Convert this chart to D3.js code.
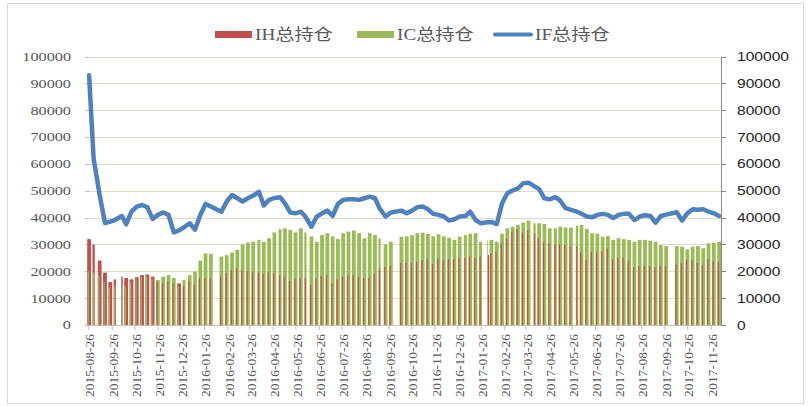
<!DOCTYPE html>
<html lang="zh">
<head>
<meta charset="utf-8">
<title>IH IC IF 总持仓</title>
<script src="https://cdnjs.cloudflare.com/ajax/libs/d3/7.8.5/d3.min.js"></script>
<style>
  body { margin: 0; background: #fff; }
  svg text { font-family: "Liberation Serif", "Noto Sans CJK SC", serif; }
</style>
</head>
<body>
<script>
// one value per trading week, weeks start on Monday 2015-08-24
var firstWeek = "2015-08-24";
var lastDay = "2017-12-08";

// exchange holidays (no bars on these days)
var closedDays = [
  "2015-09-03", "2015-09-04", "2015-10-01", "2015-10-02", "2015-10-05", "2015-10-06", "2015-10-07",
  "2016-01-01", "2016-02-08", "2016-02-09", "2016-02-10", "2016-02-11", "2016-02-12",
  "2016-04-04", "2016-05-02", "2016-06-09", "2016-06-10", "2016-09-15", "2016-09-16",
  "2016-10-03", "2016-10-04", "2016-10-05", "2016-10-06", "2016-10-07",
  "2017-01-02", "2017-01-27", "2017-01-30", "2017-01-31", "2017-02-01", "2017-02-02",
  "2017-04-03", "2017-04-04", "2017-05-01", "2017-05-29", "2017-05-30",
  "2017-10-02", "2017-10-03", "2017-10-04", "2017-10-05", "2017-10-06"
];

var ihHold = [
  32000, 30000, 24000, 19500, 16000, 17000, 18000, 17500, 17000, 17800,
  18600, 18800, 18000, 16000, 15500, 16000, 15500, 15500, 14500, 16500,
  15000, 17400, 17400, 17400, null, 18000, 19300, 20500, 21000, 20500,
  20000, 19500, 19500, 19000, 19500, 19300, 18500, 18000, 16500, 17400,
  17500, 17400, 15000, 17400, 18300, 18600, 15500, 17000, 18000, 18500,
  18500, 18000, 17500, 17500, 19000, 21000, 21700, 22000, null, 23000,
  23200, 23000, 23600, 24200, 24800, 22700, 24800, 24000, 24500, 24500,
  25000, 25000, 25500, 25000, 25500, 26100, 26500, 27300, 30400, 32300,
  34800, 35700, 34400, 35200, 34200, 32300, 31000, 30500, 30000, 30000,
  29800, 29500, 29400, 27000, 24200, 27300, 27000, 27300, 28500, 24500,
  25000, 25200, 24000, 21600, 22000, 22000, 22000, 21500, 22000, 22000,
  null, 22500, 23000, 24300, 24200, 23000, 22400, 24500, 23600, 23500
];

var icHold = [
  20000, 19500, 18500, 16000, 14000, 14500, 14500, 14500, 16000, 17400,
  18000, 18000, 17400, 16800, 18000, 18600, 17500, 14500, 16800, 18600,
  19900, 24000, 26700, 26500, null, 25500, 26000, 27000, 28000, 30000,
  30700, 31000, 31700, 31000, 32300, 34500, 35700, 36000, 35400, 34500,
  36000, 34500, 33000, 31000, 33500, 34200, 33000, 32000, 34200, 34800,
  35200, 34200, 32300, 34200, 33500, 32300, 30000, 31000, null, 32900,
  33000, 33500, 34200, 34400, 33900, 33000, 33800, 33000, 32500, 31700,
  32900, 33500, 33900, 34200, 31000, 31500, 31700, 31000, 34000, 36000,
  36600, 37300, 38100, 38900, 37900, 37900, 37600, 36000, 36000, 36600,
  36300, 36300, 37000, 37300, 35800, 34200, 34000, 32900, 33100, 31700,
  32300, 32000, 31700, 31000, 31700, 31700, 31400, 31000, 29800, 29400,
  null, 29400, 29200, 28200, 29200, 29400, 28600, 30400, 30600, 31000
];

var ifHold = [
  93000, 62000, 48400, 38000, 38500, 39100, 40600, 37500, 42200, 44100,
  44700, 43900, 39500, 41000, 41900, 41000, 34500, 35200, 36400, 37900,
  35500, 41000, 45100, 44100, null, 42200, 46000, 48400, 47200, 46000,
  47200, 48200, 49600, 44500, 46600, 47300, 47600, 45300, 41900, 41600,
  42200, 40400, 36600, 40400, 41600, 42600, 40600, 45100, 46600, 46800,
  46800, 46600, 47200, 47800, 47200, 43500, 40400, 41900, null, 42600,
  41600, 42600, 43900, 44100, 43100, 41400, 41000, 40400, 38900, 39400,
  40400, 40600, 42200, 39100, 37900, 38300, 38400, 37600, 45300, 49100,
  50100, 50900, 52800, 53000, 51600, 50600, 47200, 46800, 47600, 46300,
  43500, 42900, 42200, 41400, 40400, 40100, 41000, 41400, 41000, 39800,
  41000, 41400, 41400, 39100, 40400, 40900, 40600, 38100, 40600, 41100,
  null, 42000, 38900, 41600, 43100, 42900, 43100, 42200, 41600, 40600
];

var yTicks = [0, 10000, 20000, 30000, 40000, 50000, 60000, 70000, 80000, 90000, 100000];

var monthTicks = [
  "2015-08-26", "2015-09-26", "2015-10-26", "2015-11-26", "2015-12-26",
  "2016-01-26", "2016-02-26", "2016-03-26", "2016-04-26", "2016-05-26", "2016-06-26",
  "2016-07-26", "2016-08-26", "2016-09-26", "2016-10-26", "2016-11-26", "2016-12-26",
  "2017-01-26", "2017-02-26", "2017-03-26", "2017-04-26", "2017-05-26", "2017-06-26",
  "2017-07-26", "2017-08-26", "2017-09-26", "2017-10-26", "2017-11-26"
];

var seriesNames = ["IH总持仓", "IC总持仓", "IF总持仓"];
var colors = { ih: "#c0504d", ic: "#9bbb59", if: "#4f81bd" };

var W = 810, H = 406;
var svg = d3.select("body").append("svg").attr("width", W).attr("height", H);

// outer frame
svg.append("rect").attr("x", 7.5).attr("y", 3.5).attr("width", 796).attr("height", 400)
  .attr("fill", "none").attr("stroke", "#d9d9d9");

var parse = d3.utcParse("%Y-%m-%d");
var fmt = d3.utcFormat("%Y-%m-%d");
var start = parse(firstWeek);
var end = d3.utcDay.offset(parse(lastDay), 1);
var holidaySet = new Set(closedDays);

var x = d3.scaleUtc().domain([start, end]).range([87.2, 721]);
var y = d3.scaleLinear().domain([0, 100000]).range([325, 56.5]);

// trading-day runs of week i
function segments(i) {
  var mon = d3.utcDay.offset(start, 7 * i), segs = [], cur = null;
  for (var d = 0; d < 5; d++) {
    var t = d3.utcDay.offset(mon, d);
    if (!holidaySet.has(fmt(t)) && t < end) {
      if (!cur) { cur = [t, null]; segs.push(cur); }
      cur[1] = d3.utcDay.offset(t, 1);
    } else cur = null;
  }
  return segs;
}

var weeks = icHold.map(function(v, i) {
  return { i: i, ic: v, ih: ihHold[i], f: ifHold[i], segs: segments(i) };
});

// gridlines
svg.append("g").selectAll("line").data(yTicks.slice(1)).join("line")
  .attr("x1", 88).attr("x2", 721)
  .attr("y1", function(d) { return Math.round(y(d)) + 0.5; })
  .attr("y2", function(d) { return Math.round(y(d)) + 0.5; })
  .attr("stroke", "#dedbcc").attr("stroke-width", 1.2);

// left ticks (no axis line)
svg.append("g").selectAll("line").data(yTicks).join("line")
  .attr("x1", 85).attr("x2", 89)
  .attr("y1", function(d) { return Math.round(y(d)) + 0.5; })
  .attr("y2", function(d) { return Math.round(y(d)) + 0.5; })
  .attr("stroke", "#bfbfbf");

// bars
var barG = svg.append("g");
weeks.filter(function(w) { return w.ic != null && w.segs.length; }).forEach(function(w) {
  var ihTaller = w.ih > w.ic;
  var back = ihTaller ? { v: w.ih, c: colors.ih } : { v: w.ic, c: colors.ic };
  var front = ihTaller ? { v: w.ic, c: colors.ic } : { v: w.ih, c: colors.ih };
  var g = barG.append("g");
  g.selectAll("rect").data(w.segs).join("rect")
    .attr("x", function(s) { return x(s[0]); })
    .attr("width", function(s) { return x(s[1]) - x(s[0]); })
    .attr("y", y(back.v))
    .attr("height", y(0) - y(back.v))
    .attr("fill", back.c);
  var s0 = w.segs[0];
  g.append("rect")
    .attr("x", x(s0[0]) + 0.5)
    .attr("width", 1.2)
    .attr("y", y(front.v))
    .attr("height", y(0) - y(front.v))
    .attr("fill", front.c);
});

// x axis
svg.append("line").attr("x1", 87).attr("x2", 721).attr("y1", 325.5).attr("y2", 325.5)
  .attr("stroke", "#bfbfbf");
svg.append("g").selectAll("line").data(monthTicks).join("line")
  .attr("x1", function(d) { return x(parse(d)); })
  .attr("x2", function(d) { return x(parse(d)); })
  .attr("y1", 325).attr("y2", 330)
  .attr("stroke", "#bfbfbf");
svg.append("g").selectAll("text").data(monthTicks).join("text")
  .attr("transform", function(d) { return "translate(" + (x(parse(d)) + 1) + ",334) rotate(-90)"; })
  .attr("text-anchor", "end")
  .attr("dy", "0.35em")
  .attr("font-size", 13.5)
  .attr("fill", "#595959")
  .text(function(d) { return d; });

// IF line
var line = d3.line()
  .x(function(w) { var s = w.segs; return x(new Date((+s[0][0] + +s[s.length - 1][1]) / 2)); })
  .y(function(w) { return y(w.f); });
svg.append("path")
  .datum(weeks.filter(function(w) { return w.f != null && w.segs.length; }))
  .attr("d", line)
  .attr("fill", "none")
  .attr("stroke", colors.if)
  .attr("stroke-width", 4.5)
  .attr("stroke-linejoin", "round")
  .attr("stroke-linecap", "round");

// left axis labels
svg.append("g").selectAll("text").data(yTicks).join("text")
  .attr("transform", function(d) { return "translate(71," + y(d) + ") scale(1.3,1)"; })
  .attr("text-anchor", "end")
  .attr("dy", "0.35em")
  .attr("font-size", 12.5)
  .attr("fill", "#595959")
  .text(function(d) { return d; });

// right axis
svg.append("line").attr("x1", 721.5).attr("x2", 721.5).attr("y1", y(100000)).attr("y2", 325)
  .attr("stroke", "#868686");
svg.append("g").selectAll("line").data(yTicks).join("line")
  .attr("x1", 721).attr("x2", 726)
  .attr("y1", function(d) { return Math.round(y(d)) + 0.5; })
  .attr("y2", function(d) { return Math.round(y(d)) + 0.5; })
  .attr("stroke", "#868686");
svg.append("g").selectAll("text").data(yTicks).join("text")
  .attr("transform", function(d) { return "translate(737," + y(d) + ") scale(1.2,1)"; })
  .attr("dy", "0.35em")
  .attr("font-size", 13)
  .style("font-family", "'Liberation Sans', Arial, sans-serif")
  .attr("fill", "#262626")
  .text(function(d) { return d; });

// legend
var legend = [
  { name: seriesNames[0], c: colors.ih, kind: "bar", x: 215 },
  { name: seriesNames[1], c: colors.ic, kind: "bar", x: 357 },
  { name: seriesNames[2], c: colors.if, kind: "line", x: 493 }
];
var lg = svg.append("g").selectAll("g").data(legend).join("g")
  .attr("transform", function(d) { return "translate(" + d.x + ",0)"; });
lg.filter(function(d) { return d.kind === "bar"; }).append("rect")
  .attr("x", 0).attr("y", 31).attr("width", 37).attr("height", 7)
  .attr("fill", function(d) { return d.c; });
lg.filter(function(d) { return d.kind === "line"; }).append("line")
  .attr("x1", 2).attr("x2", 38).attr("y1", 34.5).attr("y2", 34.5)
  .attr("stroke", function(d) { return d.c; }).attr("stroke-width", 4)
  .attr("stroke-linecap", "round");
lg.append("text")
  .attr("transform", function(d) { return "translate(" + (d.kind === "bar" ? 40 : 42) + ",40) scale(1.2,1)"; })
  .attr("font-size", 16)
  .attr("fill", "#595959")
  .text(function(d) { return d.name; });
</script>
</body>
</html>
